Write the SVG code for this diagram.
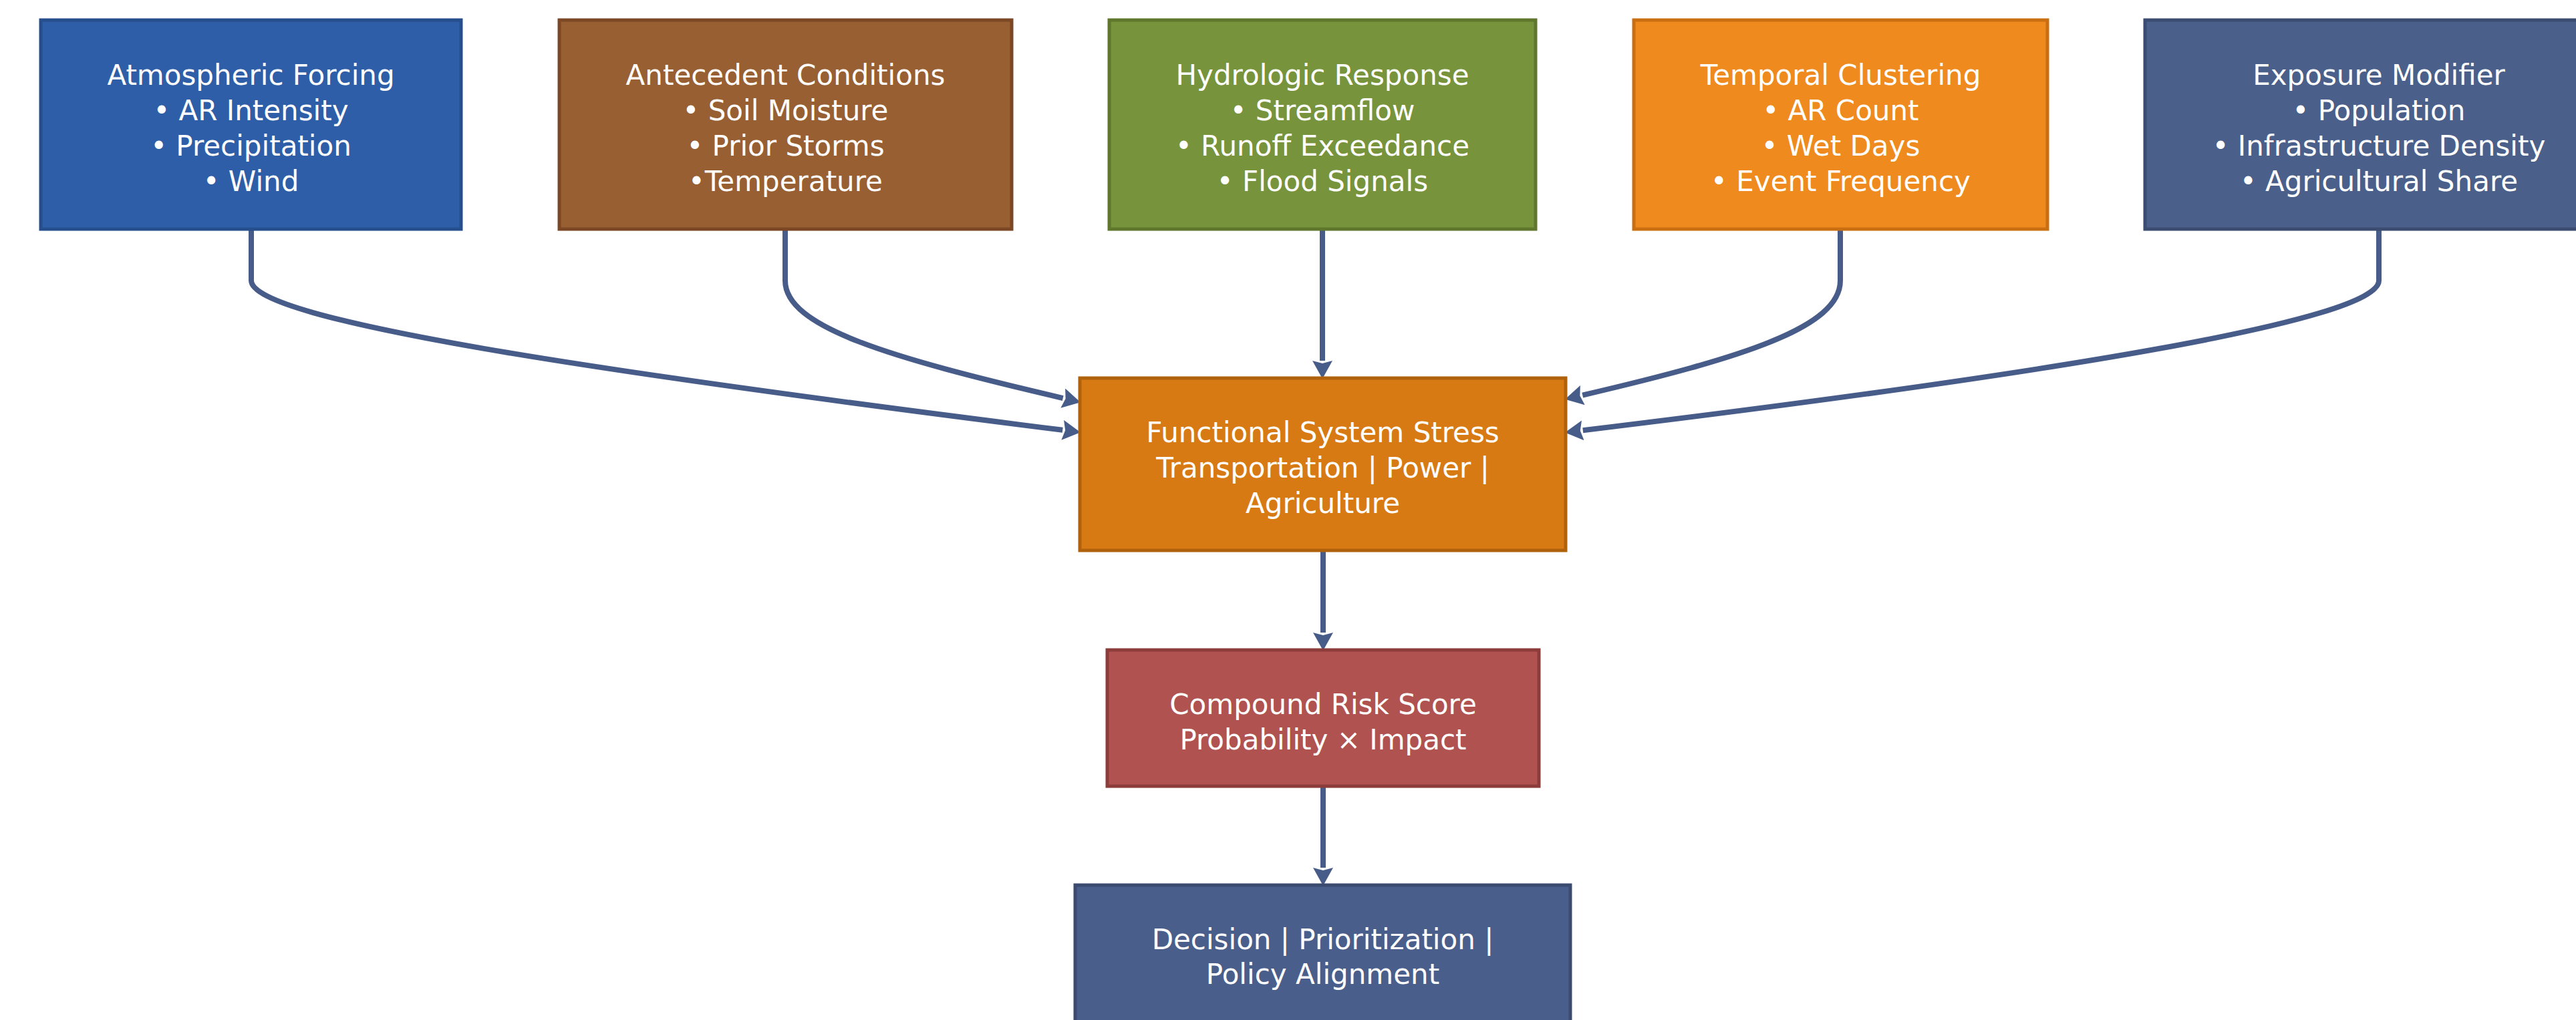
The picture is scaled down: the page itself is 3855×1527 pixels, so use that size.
<svg xmlns="http://www.w3.org/2000/svg" width="3855" height="1527" viewBox="0 0 3855 1527">
<style>
  .box { stroke-width: 5; }
  .t { font-family: "DejaVu Sans", "Liberation Sans", sans-serif; font-size: 42px; fill: #ffffff; text-anchor: middle; }
  .c { fill: none; stroke: #485C8A; stroke-width: 8; }
</style>
<defs>
  <marker id="ah" markerUnits="userSpaceOnUse" markerWidth="28" markerHeight="30" refX="0" refY="15" orient="auto">
    <path d="M0,0 L27,15 L0,30 L4,15 Z" fill="#485C8A"/>
  </marker>
</defs>
<rect width="3855" height="1527" fill="#ffffff"/>

<g id="connectors">
  <path class="c" marker-end="url(#ah)" d="M376,343 L376,420 C376,480 900,557 1590.2,643.8"/>
  <path class="c" marker-end="url(#ah)" d="M1175,343 L1175,420 C1175,490 1330,535 1590.7,596.1"/>
  <path class="c" marker-end="url(#ah)" d="M1979,343 L1979,540"/>
  <path class="c" marker-end="url(#ah)" d="M2754,343 L2754,420 C2754,490 2610,535 2368.3,591.6"/>
  <path class="c" marker-end="url(#ah)" d="M3560,343 L3560,420 C3560,480 3063,560 2368.8,644.3"/>
  <path class="c" marker-end="url(#ah)" d="M1980,824 L1980,947"/>
  <path class="c" marker-end="url(#ah)" d="M1980,1177 L1980,1299"/>
</g>

<g id="atmospheric">
  <rect class="box" x="61" y="30" width="629" height="313" fill="#2E5EA7" stroke="#264E8C"/>
  <text class="t" x="375.5" y="127">Atmospheric Forcing</text>
  <text class="t" x="375.5" y="180">• AR Intensity</text>
  <text class="t" x="375.5" y="233">• Precipitation</text>
  <text class="t" x="375.5" y="286">• Wind</text>
</g>
<g id="antecedent">
  <rect class="box" x="837" y="30" width="677" height="313" fill="#985F33" stroke="#7B4724"/>
  <text class="t" x="1175.5" y="127">Antecedent Conditions</text>
  <text class="t" x="1175.5" y="180">• Soil Moisture</text>
  <text class="t" x="1175.5" y="233">• Prior Storms</text>
  <text class="t" x="1175.5" y="286">•Temperature</text>
</g>
<g id="hydrologic">
  <rect class="box" x="1660" y="30" width="638" height="313" fill="#77933C" stroke="#5E772C"/>
  <text class="t" x="1979" y="127">Hydrologic Response</text>
  <text class="t" x="1979" y="180">• Streamflow</text>
  <text class="t" x="1979" y="233">• Runoff Exceedance</text>
  <text class="t" x="1979" y="286">• Flood Signals</text>
</g>
<g id="temporal">
  <rect class="box" x="2445" y="30" width="619" height="313" fill="#EF8A1E" stroke="#C96F12"/>
  <text class="t" x="2754.5" y="127">Temporal Clustering</text>
  <text class="t" x="2754.5" y="180">• AR Count</text>
  <text class="t" x="2754.5" y="233">• Wet Days</text>
  <text class="t" x="2754.5" y="286">• Event Frequency</text>
</g>
<g id="exposure">
  <rect class="box" x="3210" y="30" width="700" height="313" fill="#4A5F8A" stroke="#3B4C70"/>
  <text class="t" x="3560" y="127">Exposure Modifier</text>
  <text class="t" x="3560" y="180">• Population</text>
  <text class="t" x="3560" y="233">• Infrastructure Density</text>
  <text class="t" x="3560" y="286">• Agricultural Share</text>
</g>
<g id="functional">
  <rect class="box" x="1616" y="566" width="727" height="258" fill="#D87A14" stroke="#B0610C"/>
  <text class="t" x="1979.5" y="662">Functional System Stress</text>
  <text class="t" x="1979.5" y="715">Transportation | Power |</text>
  <text class="t" x="1979.5" y="768">Agriculture</text>
</g>
<g id="compound">
  <rect class="box" x="1657" y="973" width="646" height="204" fill="#B05250" stroke="#8C3C3A"/>
  <text class="t" x="1980" y="1069">Compound Risk Score</text>
  <text class="t" x="1980" y="1122">Probability × Impact</text>
</g>
<g id="decision">
  <rect class="box" x="1609" y="1325" width="741" height="215" fill="#4A5E8B" stroke="#3B4B70"/>
  <text class="t" x="1979.5" y="1421">Decision | Prioritization |</text>
  <text class="t" x="1979.5" y="1473">Policy Alignment</text>
</g>
</svg>
